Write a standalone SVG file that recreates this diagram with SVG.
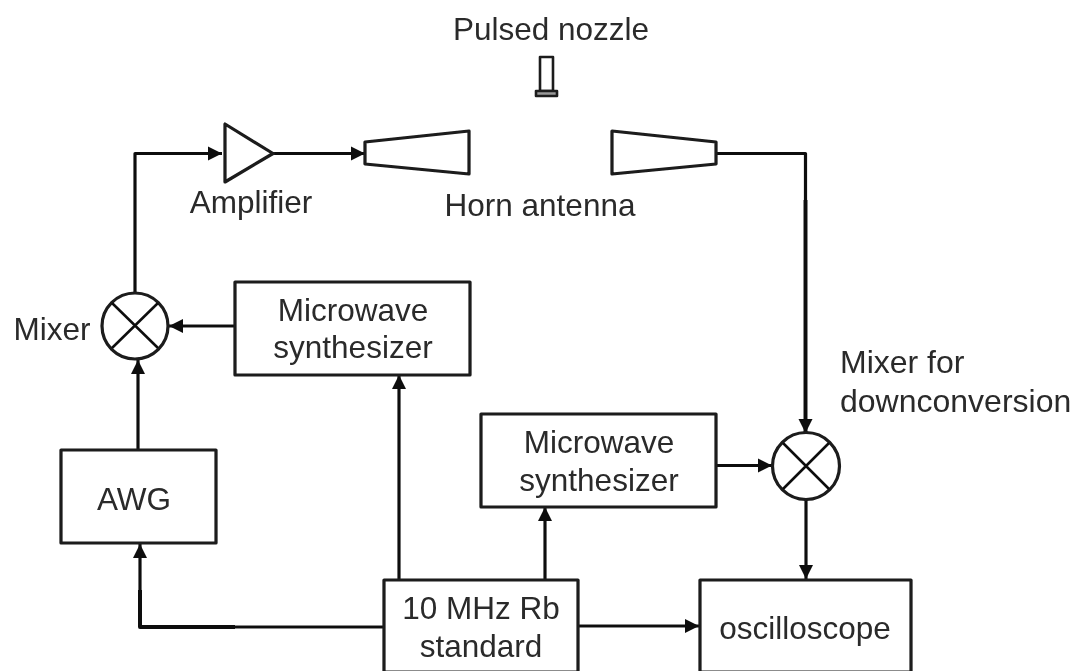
<svg xmlns="http://www.w3.org/2000/svg" width="1076" height="671" viewBox="0 0 1076 671">
<style>
text{font-family:"Liberation Sans",Arial,sans-serif;font-size:31.500px;fill:#2a2a2a;text-anchor:middle}
.s{fill:#fff;stroke:#1a1a1a;stroke-width:3.2;stroke-linejoin:round}
.t{stroke-width:2.6}
.c{fill:none;stroke:#111;stroke-width:3.200;stroke-linejoin:round}
.x{stroke-width:2.600}
.k{stroke-width:4}
.l{font-size:32px;text-anchor:start}
</style>
<defs>
<marker id="a" markerUnits="userSpaceOnUse" markerWidth="16" markerHeight="16" refX="14" refY="8" orient="auto"><path d="M0 1 L14 8 L0 15Z" fill="#111"/></marker>
<filter id="b" x="-2%" y="-2%" width="104%" height="104%"><feGaussianBlur stdDeviation="0.45"/></filter>
</defs>
<rect width="1076" height="671" fill="#fff"/>
<g filter="url(#b)">
<g id="connectors">
<path class="c" d="M135 293V153.500H222" marker-end="url(#a)"/>
<path class="c" d="M273 153.500H365" marker-end="url(#a)"/>
<path class="c" d="M716 153.500H805.500V200"/>
<path class="c k" d="M805.500 200V433" marker-end="url(#a)"/>
<path class="c" d="M235 326H169" marker-end="url(#a)"/>
<path class="c" d="M138 450V360" marker-end="url(#a)"/>
<path class="c k" d="M140 590V627H235"/>
<path class="c" d="M235 627H384"/>
<path class="c" d="M140 590V544" marker-end="url(#a)"/>
<path class="c" d="M399 580V375" marker-end="url(#a)"/>
<path class="c" d="M545 580V507" marker-end="url(#a)"/>
<path class="c" d="M716 465.500H772" marker-end="url(#a)"/>
<path class="c" d="M806 499V579" marker-end="url(#a)"/>
<path class="c" d="M578 626H699" marker-end="url(#a)"/>
</g>
<g id="nozzle"><rect class="s t" x="540" y="57" width="13" height="34"/><rect class="s t" x="536" y="91" width="21" height="5" style="fill:#999"/></g>
<text x="551" y="40">Pulsed nozzle</text>
<g id="amplifier"><path class="s" d="M225 124V182L273 153.500Z"/><text x="251" y="213">Amplifier</text></g>
<g id="horn-tx"><path class="s" d="M365 142L469 131V174L365 164Z"/></g>
<g id="horn-rx"><path class="s" d="M612 131L716 142V164L612 174Z"/></g>
<text x="540" y="216">Horn antenna</text>
<g id="mixer1"><circle class="s" cx="135" cy="326" r="33"/><path class="c x" d="M112 303L158 348M158 303L112 348"/><text x="52" y="340">Mixer</text></g>
<g id="synth1"><rect class="s" x="235" y="282" width="235" height="93"/><text x="353" y="321">Microwave</text><text x="353" y="358">synthesizer</text></g>
<g id="awg"><rect class="s" x="61" y="450" width="155" height="93"/><text x="134" y="510">AWG</text></g>
<g id="synth2"><rect class="s" x="481" y="414" width="235" height="93"/><text x="599" y="453">Microwave</text><text x="599" y="491">synthesizer</text></g>
<g id="mixer2"><circle class="s" cx="806" cy="466" r="33.500"/><path class="c x" d="M783 443L829 489M829 443L783 489"/><text class="l" x="840" y="373">Mixer for</text><text class="l" x="840" y="412">downconversion</text></g>
<g id="rb"><rect class="s" x="384" y="580" width="194" height="92"/><text x="481" y="619">10 MHz Rb</text><text x="481" y="657">standard</text></g>
<g id="scope"><rect class="s" x="700" y="580" width="211" height="92"/><text x="805" y="639">oscilloscope</text></g>
</g>
</svg>
